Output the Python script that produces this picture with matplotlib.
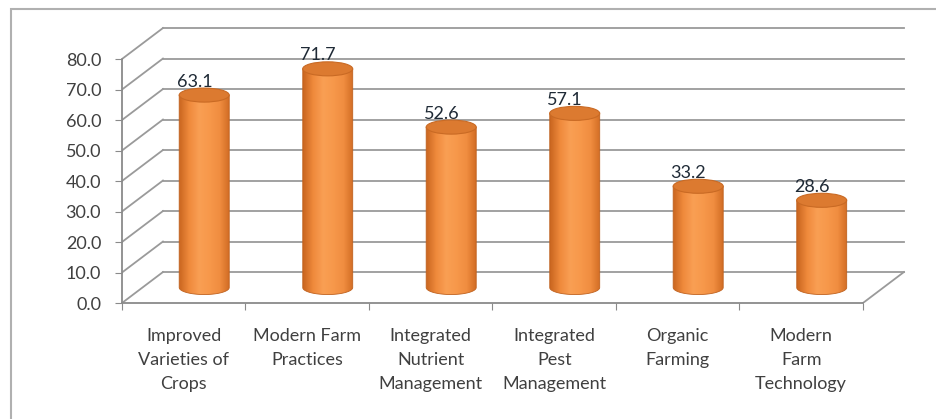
import numpy as np
import matplotlib.pyplot as plt
from matplotlib.patches import Ellipse, Polygon, Rectangle
from matplotlib.colors import LinearSegmentedColormap

# Data
categories = ["Improved\nVarieties of\nCrops", "Modern Farm\nPractices",
              "Integrated\nNutrient\nManagement", "Integrated\nPest\nManagement",
              "Organic\nFarming", "Modern\nFarm\nTechnology"]
values = [63.1, 71.7, 52.6, 57.1, 33.2, 28.6]
y_ticks = [0, 10, 20, 30, 40, 50, 60, 70, 80]

plt.rcParams['font.family'] = ['Lato', 'DejaVu Sans']

# 3D look: depth offset of back wall (data units)
DX, DY = 0.332, 10.16
bar_w = 0.405
ell_h = 4.6
grid_col = '#9a9a9a'
text_col = '#404040'

body_cmap = LinearSegmentedColormap.from_list(
    'cyl', ['#c9651f', '#ef8a3c', '#f99f54', '#f7984a', '#f08d40', '#cf6a22'])

fig = plt.figure(figsize=(9.36, 4.19), dpi=100)
ax = fig.add_axes([0.1303, 0.2768, 0.8576, 0.6624])
ax.set_xlim(-0.5, 6.0)
ax.set_ylim(0, 91)

# back wall gridlines and side diagonals
for v in y_ticks:
    ax.plot([-0.5, -0.5 + DX], [v, v + DY], color=grid_col, lw=1.3, zorder=1)
    ax.plot([-0.5 + DX, 5.5 + DX], [v + DY, v + DY], color=grid_col, lw=1.3, zorder=1)
# floor right edge
ax.plot([5.5, 5.5 + DX], [0, DY], color=grid_col, lw=1.3, zorder=1)

# cylinders
base = DY / 2
grad = np.linspace(0, 1, 256).reshape(1, -1)
for i, v in enumerate(values):
    cx = i + DX / 2
    top = v + DY / 2
    t = np.linspace(np.pi, 2 * np.pi, 60)
    xs = list(cx + bar_w / 2 * np.cos(t)) + [cx + bar_w / 2, cx - bar_w / 2]
    ys = list(base + ell_h / 2 * np.sin(t)) + [top, top]
    body = Polygon(np.column_stack([xs, ys]), closed=True, facecolor='none',
                   edgecolor='#c0621f', lw=0.6, zorder=4)
    ax.add_patch(body)
    im = ax.imshow(grad, cmap=body_cmap, aspect='auto', zorder=3,
                   extent=(cx - bar_w / 2, cx + bar_w / 2, base - ell_h / 2, top))
    im.set_clip_path(body)
    ax.add_patch(Ellipse((cx, top), bar_w, ell_h, facecolor='#dc7a30',
                         edgecolor='#c96a24', lw=0.8, zorder=5))
    ax.text(cx - 0.08, top + 4.4, f"{v:.1f}", ha='center', va='center',
            fontsize=13, color='#1f2a36', zorder=6)

# front axes
for s in ['top', 'right']:
    ax.spines[s].set_visible(False)
ax.spines['left'].set_bounds(0, 80)
ax.spines['bottom'].set_bounds(-0.5, 5.5)
for s in ['left', 'bottom']:
    ax.spines[s].set_color('#8a8a8a')
    ax.spines[s].set_linewidth(1.3)

ax.set_yticks(y_ticks)
ax.set_yticklabels([f"{v:.1f}" for v in y_ticks])
ax.tick_params(axis='y', length=5, color='#8a8a8a', labelsize=13,
               labelcolor=text_col, pad=10)

ax.set_xticks(np.arange(-0.5, 6.0, 1.0))
ax.set_xticklabels([])
ax.set_xticks(range(len(categories)), minor=True)
ax.set_xticklabels(categories, minor=True, fontsize=13, color=text_col,
                   linespacing=1.62)
ax.tick_params(axis='x', which='major', length=5, color='#8a8a8a')
ax.tick_params(axis='x', which='minor', length=0, pad=18)
ax.set_facecolor('none')

# chart border
fig.add_artist(Rectangle((11 / 936, -0.1), 1.0, (419 - 9) / 419 + 0.1,
                         transform=fig.transFigure, fill=False,
                         edgecolor='#b0b0b0', lw=1.5))

fig.savefig('out.png', dpi=100)
